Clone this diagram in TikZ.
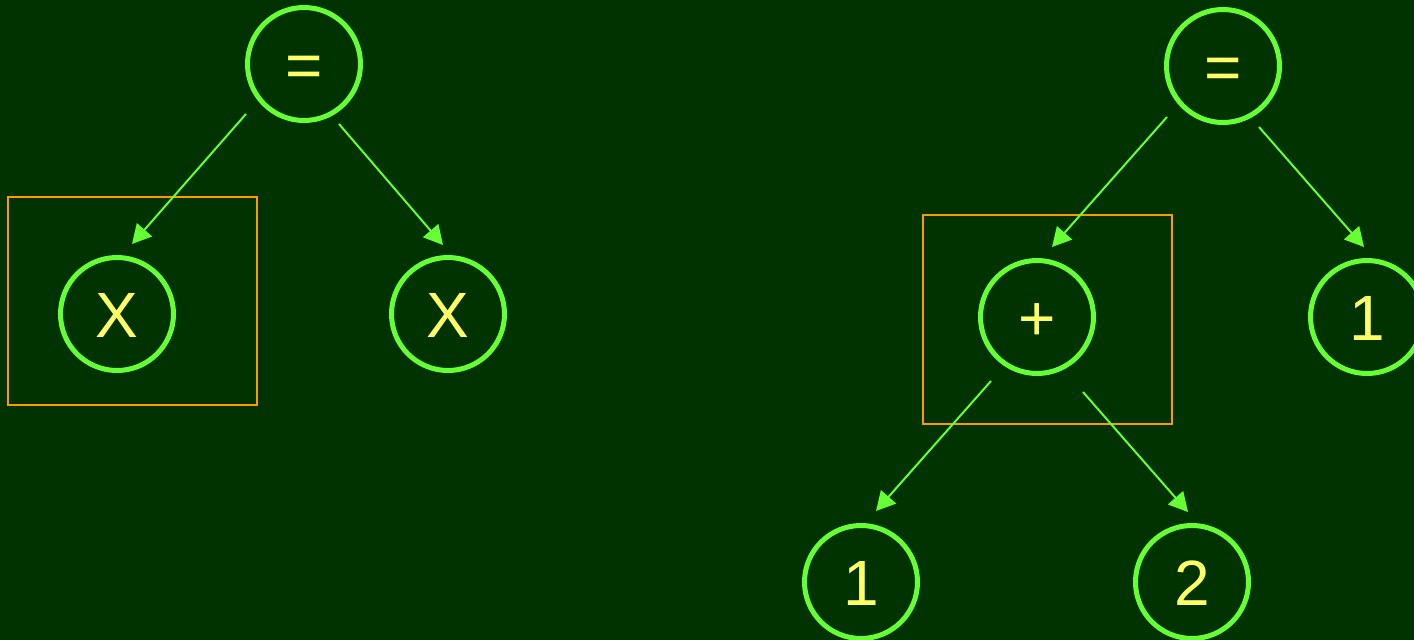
\documentclass[tikz,border=0pt]{standalone}
\usepackage{fontspec}
\setmainfont{Liberation Sans}
\usetikzlibrary{arrows.meta,calc}
\definecolor{bgdark}{HTML}{003300}
\definecolor{ringgreen}{HTML}{66FF33}
\definecolor{labelyellow}{HTML}{FFFF66}
\definecolor{boxorange}{HTML}{FF9900}
\begin{document}
\begin{tikzpicture}[x=1pt,y=-1pt,
  treenode/.style={circle,draw=ringgreen,line width=5pt,minimum size=113pt,inner sep=0pt,
    text=labelyellow,font=\fontsize{64}{64}\selectfont,text height=46pt,text depth=0pt},
  edge/.style={draw=ringgreen,line width=2pt,-{Triangle[length=19pt,width=20pt]},fill=ringgreen},
  hlbox/.style={draw=boxorange,line width=2pt}]
  % background and bounding box
  \fill[bgdark] (0,0) rectangle (1414,640);
  \useasboundingbox (0,0) rectangle (1414,640);

  % highlight frames
  \draw[hlbox] (8,197) rectangle (257,405);
  \draw[hlbox] (923,215) rectangle (1172,424);

  % left tree: X = X
  \node[treenode] (eqL) at (304,64) {=};
  \node[treenode] (xa) at (117,314) {X};
  \node[treenode] (xb) at (448,314) {X};

  % right tree: (1 + 2) = 1
  \node[treenode] (eqR) at (1223,66) {=};
  \node[treenode] (plus) at (1037,317) {+};
  \node[treenode] (oneR) at (1367,317) {1};
  \node[treenode] (oneB) at (861,582) {1};
  \node[treenode] (two) at (1192,582) {2};

  % edges
  \draw[edge] ($(eqL)+(-58,50)$) -- ($(xa)+(15,-70)$);
  \draw[edge] ($(eqL)+(35,60)$) -- ($(xb)+(-5,-69)$);
  \draw[edge] ($(eqR)+(-56,51)$) -- ($(plus)+(15,-70)$);
  \draw[edge] ($(eqR)+(36,61)$) -- ($(oneR)+(-3,-70)$);
  \draw[edge] ($(plus)+(-46,64)$) -- ($(oneB)+(15,-71)$);
  \draw[edge] ($(plus)+(46,75)$) -- ($(two)+(-4,-70)$);
\end{tikzpicture}
\end{document}
